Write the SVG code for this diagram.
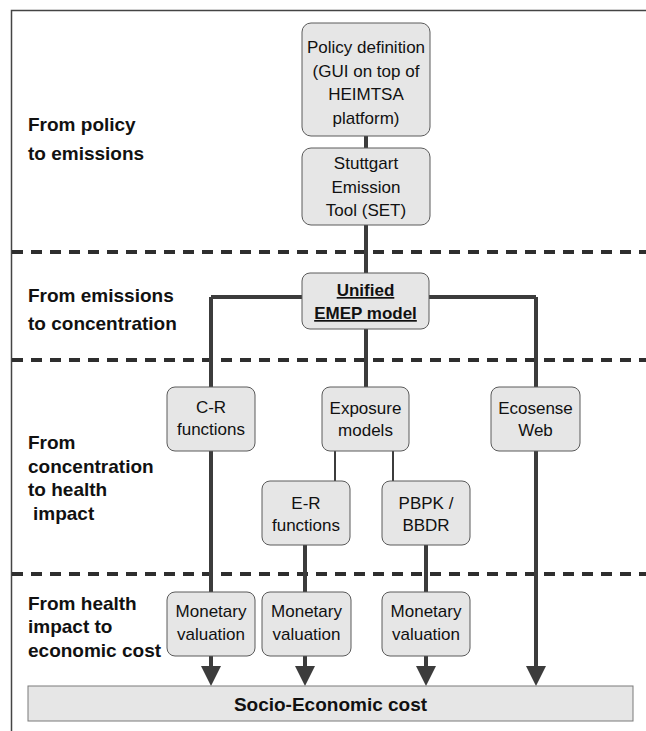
<svg xmlns="http://www.w3.org/2000/svg" width="646" height="731" viewBox="0 0 646 731">
<defs>
<style>
.box{fill:#e6e6e6;stroke:#5a5a5a;stroke-width:1}
.t{font-family:"Liberation Sans",Arial,sans-serif;font-size:17px;fill:#111;text-anchor:middle}
.lbl{font-family:"Liberation Sans",Arial,sans-serif;font-size:19px;font-weight:bold;fill:#111}
.b{font-weight:bold}
.thick{stroke:#3c3c3c;stroke-width:4;fill:none}
.thin{stroke:#3c3c3c;stroke-width:2;fill:none}
.dash{stroke:#2e2e2e;stroke-width:4;stroke-dasharray:11 8;fill:none}
.frame{stroke:#444;stroke-width:1.5;fill:none}
</style>
<marker id="arr" markerWidth="5" markerHeight="5" refX="1" refY="2.5" orient="auto" markerUnits="strokeWidth">
<path d="M0,0 L5,2.5 L0,5 Z" fill="#3c3c3c"/>
</marker>
</defs>
<rect width="646" height="731" fill="#fff"/>
<g id="frame">
<path class="frame" d="M11.5,731 V10.5 H646"/>
</g>
<g id="separators">
<line class="dash" x1="12" y1="252" x2="646" y2="252"/>
<line class="dash" x1="12" y1="360" x2="646" y2="360"/>
<line class="dash" x1="12" y1="574" x2="646" y2="574"/>
</g>
<g id="stage-labels">
<text class="lbl" x="28" y="131">From policy</text>
<text class="lbl" x="28" y="160">to emissions</text>
<text class="lbl" x="28" y="302">From emissions</text>
<text class="lbl" x="28" y="330">to concentration</text>
<text class="lbl" x="28" y="449">From</text>
<text class="lbl" x="28" y="473">concentration</text>
<text class="lbl" x="28" y="496">to health</text>
<text class="lbl" x="33" y="520">impact</text>
<text class="lbl" x="28" y="610">From health</text>
<text class="lbl" x="28" y="633">impact to</text>
<text class="lbl" x="28" y="657">economic cost</text>
</g>
<g id="connectors">
<line class="thick" x1="366" y1="136" x2="366" y2="148"/>
<line class="thick" x1="366" y1="225" x2="366" y2="273"/>
<polyline class="thick" points="211,297 536,297"/>
<line class="thick" x1="366" y1="329" x2="366" y2="387"/>
<line class="thick" x1="211" y1="297" x2="211" y2="670" marker-end="url(#arr)"/>
<line class="thick" x1="536" y1="297" x2="536" y2="670" marker-end="url(#arr)"/>
<line class="thin" x1="335" y1="451" x2="335" y2="481"/>
<line class="thin" x1="393" y1="451" x2="393" y2="481"/>
<line class="thick" x1="305" y1="545" x2="305" y2="670" marker-end="url(#arr)"/>
<line class="thick" x1="426" y1="545" x2="426" y2="670" marker-end="url(#arr)"/>
</g>
<g id="policy">
<rect class="box" x="302" y="23" width="128" height="113" rx="9"/>
<text class="t" x="366" y="53">Policy definition</text>
<text class="t" x="366" y="77">(GUI on top of</text>
<text class="t" x="366" y="100">HEIMTSA</text>
<text class="t" x="366" y="124">platform)</text>
</g>
<g id="set">
<rect class="box" x="302" y="148" width="128" height="77" rx="9"/>
<text class="t" x="366" y="169">Stuttgart</text>
<text class="t" x="366" y="193">Emission</text>
<text class="t" x="366" y="216">Tool (SET)</text>
</g>
<g id="emep">
<rect class="box" x="302" y="273" width="127" height="56" rx="8"/>
<text class="t b" x="365.5" y="296" text-decoration="underline">Unified</text>
<text class="t b" x="365.5" y="319" text-decoration="underline">EMEP model</text>
</g>
<g id="cr">
<rect class="box" x="167" y="387" width="88" height="64" rx="8"/>
<text class="t" x="211" y="413">C-R</text>
<text class="t" x="211" y="435">functions</text>
</g>
<g id="exposure">
<rect class="box" x="322" y="387" width="87" height="64" rx="8"/>
<text class="t" x="365.5" y="414">Exposure</text>
<text class="t" x="365.5" y="436">models</text>
</g>
<g id="ecosense">
<rect class="box" x="491" y="387" width="89" height="64" rx="8"/>
<text class="t" x="535.5" y="414">Ecosense</text>
<text class="t" x="535.5" y="436">Web</text>
</g>
<g id="er">
<rect class="box" x="262" y="481" width="88" height="64" rx="8"/>
<text class="t" x="306" y="509">E-R</text>
<text class="t" x="306" y="531">functions</text>
</g>
<g id="pbpk">
<rect class="box" x="382" y="481" width="88" height="64" rx="8"/>
<text class="t" x="426" y="509">PBPK /</text>
<text class="t" x="426" y="531">BBDR</text>
</g>
<g id="mv1">
<rect class="box" x="167" y="592" width="88" height="64" rx="8"/>
<text class="t" x="211" y="617">Monetary</text>
<text class="t" x="211" y="640">valuation</text>
</g>
<g id="mv2">
<rect class="box" x="262" y="592" width="89" height="64" rx="8"/>
<text class="t" x="306.5" y="617">Monetary</text>
<text class="t" x="306.5" y="640">valuation</text>
</g>
<g id="mv3">
<rect class="box" x="382" y="592" width="88" height="64" rx="8"/>
<text class="t" x="426" y="617">Monetary</text>
<text class="t" x="426" y="640">valuation</text>
</g>
<g id="socio">
<rect x="28" y="686" width="605" height="35" fill="#e6e6e6" stroke="#7a7a7a" stroke-width="1"/>
<text class="t b" x="330.5" y="711" style="font-size:19px">Socio-Economic cost</text>
</g>
</svg>
